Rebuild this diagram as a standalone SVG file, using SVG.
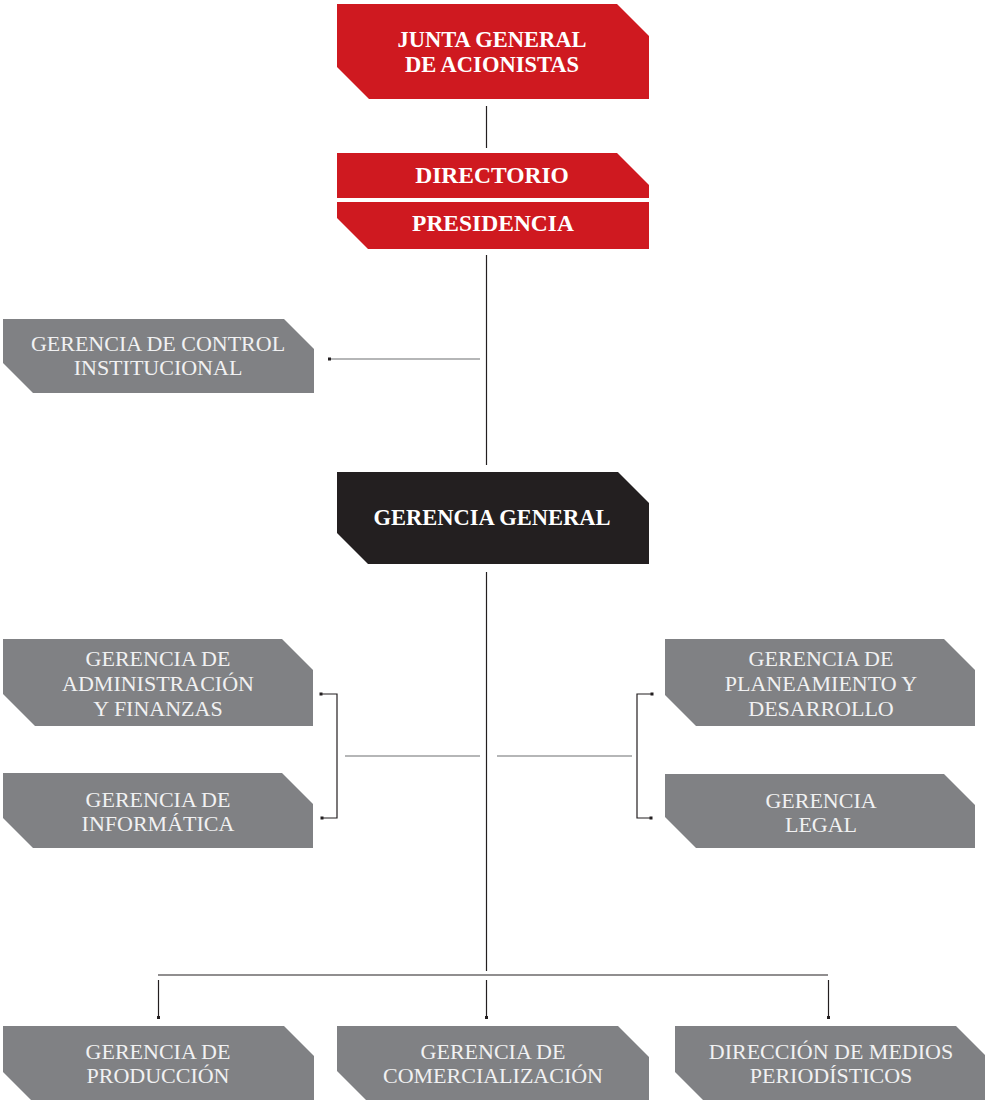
<svg xmlns="http://www.w3.org/2000/svg" width="987" height="1100" viewBox="0 0 987 1100">
<style>
.red{fill:#cf1920}
.blk{fill:#231f20}
.gry{fill:#808184}
.tb{font-family:"Liberation Serif","Times New Roman",serif;font-weight:bold;font-size:22.5px;fill:#ffffff;text-anchor:middle}
.tg{font-family:"Liberation Serif","Times New Roman",serif;font-size:22px;fill:#f1f1f2;text-anchor:middle}
.ln{stroke:#231f20;stroke-width:1.2;fill:none}
.lh{stroke:#6d6e71;stroke-width:1.2;fill:none}
.dot{fill:#231f20}
</style>
<rect width="987" height="1100" fill="#ffffff"/>
<g id="connectors">
<line class="ln" x1="486.5" y1="106" x2="486.5" y2="148"/>
<line class="ln" x1="486.5" y1="255" x2="486.5" y2="465"/>
<line class="ln" x1="486.5" y1="572" x2="486.5" y2="971"/>
<line class="lh" x1="330" y1="359" x2="480" y2="359"/>
<rect class="dot" x="328" y="357.5" width="3" height="3"/>
<line class="lh" x1="345" y1="756" x2="480" y2="756"/>
<line class="lh" x1="497" y1="756" x2="632" y2="756"/>
<polyline class="ln" points="321,694 337,694 337,818 322,818"/>
<rect class="dot" x="319.5" y="692.5" width="3" height="3"/>
<rect class="dot" x="320.5" y="816.5" width="3" height="3"/>
<polyline class="ln" points="652,694 637,694 637,818 651,818"/>
<rect class="dot" x="650.5" y="692.5" width="3" height="3"/>
<rect class="dot" x="649.5" y="816.5" width="3" height="3"/>
<line class="ln" x1="158" y1="975" x2="828" y2="975"/>
<line class="ln" x1="158.5" y1="980" x2="158.5" y2="1018"/>
<line class="ln" x1="486.5" y1="980" x2="486.5" y2="1018"/>
<line class="ln" x1="828.5" y1="980" x2="828.5" y2="1018"/>
<rect class="dot" x="157" y="1016" width="3" height="3"/>
<rect class="dot" x="485" y="1016" width="3" height="3"/>
<rect class="dot" x="827" y="1016" width="3" height="3"/>
</g>
<g id="junta">
<polygon class="red" points="337,4 617,4 649,36 649,99 369,99 337,67"/>
<text class="tb" x="492" y="47">JUNTA GENERAL</text>
<text class="tb" x="492" y="72">DE ACIONISTAS</text>
</g>
<g id="directorio">
<polygon class="red" points="337,153 617,153 649,185 649,198 337,198"/>
<text class="tb" x="492" y="183" style="font-size:23.5px">DIRECTORIO</text>
</g>
<g id="presidencia">
<polygon class="red" points="337,202 649,202 649,249 368,249 337,218"/>
<text class="tb" x="493" y="231" style="font-size:23.5px">PRESIDENCIA</text>
</g>
<g id="control">
<polygon class="gry" points="3,319 284,319 314,349 314,393 33,393 3,363"/>
<text class="tg" x="158" y="351">GERENCIA DE CONTROL</text>
<text class="tg" x="158" y="375">INSTITUCIONAL</text>
</g>
<g id="gerencia-general">
<polygon class="blk" points="337,472 618,472 649,503 649,564 368,564 337,533"/>
<text class="tb" x="492" y="525">GERENCIA GENERAL</text>
</g>
<g id="administracion">
<polygon class="gry" points="3,639 282,639 313,670 313,726 35,726 3,694"/>
<text class="tg" x="158" y="666">GERENCIA DE</text>
<text class="tg" x="158" y="691">ADMINISTRACIÓN</text>
<text class="tg" x="158" y="716">Y FINANZAS</text>
</g>
<g id="informatica">
<polygon class="gry" points="3,773 282,773 313,804 313,848 33,848 3,818"/>
<text class="tg" x="158" y="807">GERENCIA DE</text>
<text class="tg" x="158" y="831">INFORMÁTICA</text>
</g>
<g id="planeamiento">
<polygon class="gry" points="665,639 944,639 975,670 975,726 696,726 665,695"/>
<text class="tg" x="821" y="666">GERENCIA DE</text>
<text class="tg" x="821" y="691">PLANEAMIENTO Y</text>
<text class="tg" x="821" y="716">DESARROLLO</text>
</g>
<g id="legal">
<polygon class="gry" points="665,774 944,774 975,805 975,848 696,848 665,817"/>
<text class="tg" x="821" y="808">GERENCIA</text>
<text class="tg" x="821" y="832">LEGAL</text>
</g>
<g id="produccion">
<polygon class="gry" points="3,1026 284,1026 314,1056 314,1102 33,1102 3,1072"/>
<text class="tg" x="158" y="1059">GERENCIA DE</text>
<text class="tg" x="158" y="1083">PRODUCCIÓN</text>
</g>
<g id="comercializacion">
<polygon class="gry" points="337,1026 618,1026 649,1057 649,1102 368,1102 337,1071"/>
<text class="tg" x="493" y="1059">GERENCIA DE</text>
<text class="tg" x="493" y="1083">COMERCIALIZACIÓN</text>
</g>
<g id="direccion-medios">
<polygon class="gry" points="675,1026 956,1026 985,1055 985,1102 705,1102 675,1072"/>
<text class="tg" x="831" y="1059">DIRECCIÓN DE MEDIOS</text>
<text class="tg" x="831" y="1083">PERIODÍSTICOS</text>
</g>
</svg>
